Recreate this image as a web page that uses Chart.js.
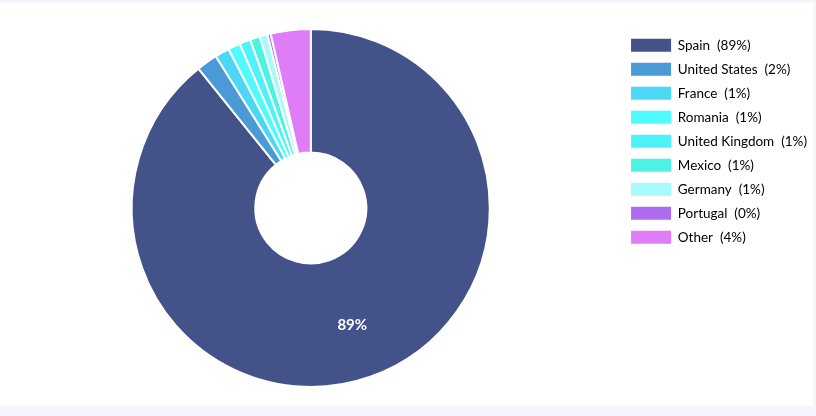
<!DOCTYPE html>
<html>
<head>
<meta charset="utf-8">
<script src="https://cdn.jsdelivr.net/npm/chart.js@4"></script>
<style>
  body { margin: 0; background: #f5f6fb; }
  #card { position: absolute; left: 0; top: 3px; width: 813px; height: 403px; background: #fff; }
  #chart { position: absolute; left: 0; top: 0; }
</style>
</head>
<body>
<div id="card"></div>
<canvas id="chart" width="816" height="416"></canvas>
<script>
// Países e percentagens
const countries = ["Spain", "United States", "France", "Romania", "United Kingdom", "Mexico", "Germany", "Portugal", "Other"];
const shares = [89.2, 1.9, 1.3, 1.1, 1.0, 0.9, 0.7, 0.3, 3.6];
const colors = ["#44528a", "#4a9ad5", "#4cd7f6", "#4ffbfe", "#4ef3fa", "#4cf2e2", "#a6fafa", "#ad6cf0", "#df7cf8"];

const total = shares.reduce((a, b) => a + b, 0);
const pct = (v) => Math.round((v / total) * 100) + "%";

// Rótulo branco dentro das fatias grandes
const sliceLabels = {
  id: "sliceLabels",
  afterDatasetsDraw(chart) {
    const ctx = chart.ctx;
    const meta = chart.getDatasetMeta(0);
    ctx.save();
    ctx.font = "bold 15px Lato";
    ctx.fillStyle = "#ffffff";
    ctx.textAlign = "center";
    ctx.textBaseline = "middle";
    meta.data.forEach((arc, i) => {
      if (shares[i] / total < 0.05) return;
      const p = arc.getProps(["x", "y", "startAngle", "endAngle", "innerRadius", "outerRadius"], true);
      const a = (p.startAngle + p.endAngle) / 2;
      const r = p.innerRadius + 0.56 * (p.outerRadius - p.innerRadius);
      ctx.fillText(pct(shares[i]), p.x + Math.cos(a) * r, p.y + Math.sin(a) * r);
    });
    ctx.restore();
  },
};

new Chart(document.getElementById("chart"), {
  type: "doughnut",
  data: {
    labels: countries,
    datasets: [
      {
        data: shares,
        backgroundColor: colors,
        borderColor: "#ffffff",
        borderWidth: 2,
      },
    ],
  },
  options: {
    responsive: false,
    animation: false,
    cutout: "31%",
    layout: { padding: { left: 1, right: -1, top: 28, bottom: 28 } },
    plugins: {
      tooltip: { enabled: false },
      legend: {
        position: "right",
        align: "start",
        labels: {
          boxWidth: 40,
          boxHeight: 13,
          padding: 10.5,
          color: "#555555",
          font: { family: "Lato", size: 13.5 },
          generateLabels(chart) {
            return countries.map((c, i) => ({
              text: c + "  (" + pct(shares[i]) + ")",
              fillStyle: colors[i],
              strokeStyle: colors[i],
              lineWidth: 0,
              hidden: false,
              index: i,
            }));
          },
        },
      },
    },
  },
  plugins: [sliceLabels],
});
</script>
</body>
</html>
